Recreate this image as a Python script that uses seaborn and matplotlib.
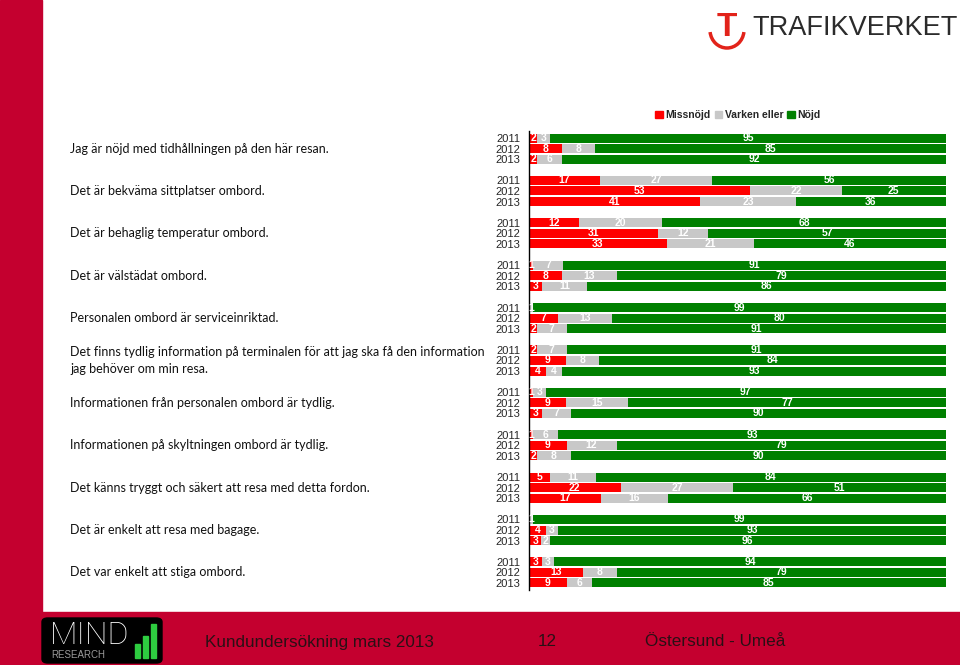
import numpy as np
import pandas as pd
import matplotlib
matplotlib.use('Agg')
import matplotlib.pyplot as plt
import matplotlib.patches as mpatches
from matplotlib.transforms import blended_transform_factory
import seaborn as sns

# Survey questions (one group of three years each)
questions = [
    'Jag är nöjd med tidhållningen på den här resan.',
    'Det är bekväma sittplatser ombord.',
    'Det är behaglig temperatur ombord.',
    'Det är välstädat ombord.',
    'Personalen ombord är serviceinriktad.',
    'Det finns tydlig information på terminalen för att jag ska få den information\njag behöver om min resa.',
    'Informationen från personalen ombord är tydlig.',
    'Informationen på skyltningen ombord är tydlig.',
    'Det känns tryggt och säkert att resa med detta fordon.',
    'Det är enkelt att resa med bagage.',
    'Det var enkelt att stiga ombord.',
]
years = ['2011', '2012', '2013']
series_names = ['Missnöjd', 'Varken eller', 'Nöjd']

# values per question, rows = 2011, 2012, 2013
missnojd = [
    [2, 8, 2], [17, 53, 41], [12, 31, 33], [1, 8, 3], [0, 7, 2], [2, 9, 4],
    [1, 9, 3], [1, 9, 2], [5, 22, 17], [0, 4, 3], [3, 13, 9],
]
varken = [
    [3, 8, 6], [27, 22, 23], [20, 12, 21], [7, 13, 11], [1, 13, 7], [7, 8, 4],
    [3, 15, 7], [6, 12, 8], [11, 27, 16], [1, 3, 2], [3, 8, 6],
]
nojd = [
    [95, 85, 92], [56, 25, 36], [68, 57, 46], [91, 79, 86], [99, 80, 91], [91, 84, 93],
    [97, 77, 90], [93, 79, 90], [84, 51, 66], [99, 93, 96], [94, 79, 85],
]

colors = ['#FF0000', '#C8C8C8', '#008000']
brand_red = '#C4002F'

# long table, one row per bar
rows = []
for qi in range(len(questions)):
    for yi, yr in enumerate(years):
        m, v, n = missnojd[qi][yi], varken[qi][yi], nojd[qi][yi]
        tot = m + v + n
        rows.append({
            'q': qi, 'year': yr, 'pos': qi * 4 + yi,
            'm': m, 'v': v, 'n': n,
            'c1': m / tot * 100, 'c2': (m + v) / tot * 100, 'c3': 100.0,
        })
df = pd.DataFrame(rows)

sns.set_theme(style='white')
plt.rcParams['font.family'] = ['Liberation Sans', 'DejaVu Sans']

fig = plt.figure(figsize=(9.6, 6.65), dpi=100)
ax = fig.add_axes([529 / 960, 1 - 590.4 / 665, 417 / 960, 459.8 / 665])

# layered cumulative bars -> stacked look
for col, c in zip(['c3', 'c2', 'c1'], colors[::-1]):
    sns.barplot(data=df, x=col, y='pos', orient='h', native_scale=True,
                color=c, width=0.85, linewidth=0, saturation=1, ax=ax)

# segment labels
for _, r in df.iterrows():
    starts = [0, r['c1'], r['c2']]
    ends = [r['c1'], r['c2'], r['c3']]
    for val, s, e in zip([r['m'], r['v'], r['n']], starts, ends):
        if val > 0:
            ax.text((s + e) / 2, r['pos'], str(val), ha='center', va='center',
                    color='white', fontsize=7.5, fontweight='bold')

ax.set_xlim(0, 100)
ax.set_ylim(42.7, -0.7)
ax.set_yticks(df['pos'])
ax.set_yticklabels(df['year'], fontsize=8)
ax.tick_params(axis='y', length=0, pad=6)
ax.set_xticks([])
ax.set_xlabel('')
ax.set_ylabel('')
for s in ['top', 'right', 'bottom']:
    ax.spines[s].set_visible(False)
ax.spines['left'].set_color('black')
ax.spines['left'].set_linewidth(1)

# question texts
trans = blended_transform_factory(fig.transFigure, ax.transData)
for qi, q in enumerate(questions):
    ax.text(70 / 960, qi * 4 + 1, q, transform=trans, ha='left', va='center',
            fontsize=9, family=['Lato', 'DejaVu Sans'], color='#111111',
            linespacing=1.45)

# legend
handles = [mpatches.Patch(color=c, label=l) for c, l in zip(colors, series_names)]
fig.legend(handles=handles, loc='center', bbox_to_anchor=(738 / 960, 1 - 115 / 665),
           ncol=3, frameon=False, handlelength=0.7, handleheight=0.7,
           handletextpad=0.25, columnspacing=0.4, prop={'weight': 'bold', 'size': 7.5})

# slide decoration: left strip and footer band
fig.patches.append(mpatches.Rectangle((0, 0), 42 / 960, 1, transform=fig.transFigure,
                                      color=brand_red, zorder=0))
fig.patches.append(mpatches.Rectangle((0, 0), 1, 53 / 665, transform=fig.transFigure,
                                      color=brand_red, zorder=0))

# MIND research logo
fig.patches.append(mpatches.FancyBboxPatch((42 / 960, 2 / 665), 120 / 960, 45 / 665,
                                           boxstyle='round,pad=0,rounding_size=0.006',
                                           transform=fig.transFigure, color='black', zorder=1))
fig.text(50 / 960, 1 - 636 / 665, 'MIND', color='white', fontsize=23,
         va='center', ha='left', family=['Roboto', 'Liberation Sans'], fontweight='light')
fig.text(51 / 960, 1 - 655 / 665, 'RESEARCH', color='#9a9a9a', fontsize=7,
         va='center', ha='left')
for bx, bh in [(135, 14), (143, 22), (151, 34)]:
    fig.patches.append(mpatches.Rectangle((bx / 960, 7 / 665), 5 / 960, bh / 665,
                                          transform=fig.transFigure, color='#2ecc40', zorder=2))

foot_col = '#2a1015'
fig.text(205 / 960, 1 - 642 / 665, 'Kundundersökning mars 2013', fontsize=12.3,
         color=foot_col, va='center', ha='left')
fig.text(538 / 960, 1 - 642 / 665, '12', fontsize=12.3, color=foot_col, va='center', ha='left')
fig.text(645 / 960, 1 - 642 / 665, 'Östersund - Umeå', fontsize=12.3,
         color=foot_col, va='center', ha='left')

# Trafikverket logo
fig.text(752 / 960, 1 - 28 / 665, 'TRAFIKVERKET', fontsize=19.5, color='#2b2b2b',
         va='center', ha='left', family=['Liberation Sans', 'DejaVu Sans'])
fig.text(727 / 960, 1 - 27 / 665, 'T', fontsize=24, color='#E2231A', fontweight='bold',
         va='center', ha='center')
fig.patches.append(mpatches.Arc((727 / 960, 1 - 30 / 665), 34 / 960, 36 / 665,
                                theta1=190, theta2=350, transform=fig.transFigure,
                                color='#E2231A', linewidth=2.5))

fig.savefig('out.png', dpi=100)
